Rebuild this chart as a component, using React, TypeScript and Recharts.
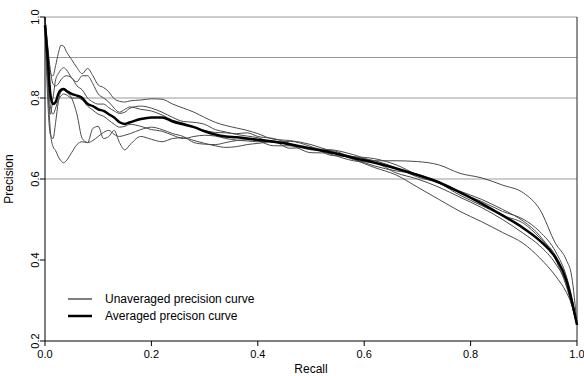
import React from 'react';
import { LineChart, Line, XAxis, YAxis, ReferenceLine, Legend } from 'recharts';

const recall = [0, 0.005, 0.01, 0.015, 0.02, 0.025, 0.03, 0.035, 0.04,
  0.05, 0.06, 0.07, 0.08, 0.09, 0.1, 0.11, 0.12, 0.13, 0.14, 0.15, 0.16,
  0.18, 0.2, 0.22, 0.24, 0.26, 0.28, 0.3, 0.32, 0.34, 0.36, 0.38, 0.4,
  0.43, 0.46, 0.5, 0.54, 0.58, 0.62, 0.66, 0.7, 0.74, 0.78, 0.82, 0.86, 0.9,
  0.93, 0.96, 0.98, 0.99, 1.0];

const curve1 = [1.0, 0.92, 0.86, 0.855, 0.88, 0.91, 0.93, 0.928, 0.915,
  0.895, 0.875, 0.86, 0.873, 0.855, 0.832, 0.826, 0.815, 0.798, 0.792, 0.79, 0.793,
  0.795, 0.798, 0.797, 0.785, 0.775, 0.765, 0.752, 0.74, 0.732, 0.726, 0.72, 0.712,
  0.698, 0.695, 0.685, 0.668, 0.655, 0.645, 0.628, 0.605, 0.59, 0.56, 0.535, 0.51, 0.49,
  0.455, 0.41, 0.35, 0.3, 0.24];

const curve2 = [1.0, 0.85, 0.76, 0.8, 0.845, 0.86, 0.87, 0.875, 0.87,
  0.85, 0.84, 0.855, 0.855, 0.835, 0.81, 0.8, 0.79, 0.775, 0.765, 0.772, 0.778,
  0.772, 0.768, 0.758, 0.745, 0.738, 0.728, 0.72, 0.715, 0.714, 0.712, 0.714, 0.705,
  0.7, 0.688, 0.672, 0.67, 0.65, 0.632, 0.62, 0.612, 0.59, 0.565, 0.545, 0.52, 0.5,
  0.47, 0.42, 0.36, 0.31, 0.24];

const curve3 = [1.0, 0.8, 0.71, 0.7, 0.74, 0.79, 0.815, 0.82, 0.815,
  0.8, 0.76, 0.7, 0.69, 0.725, 0.73, 0.7, 0.705, 0.72, 0.69, 0.672, 0.685,
  0.705, 0.698, 0.692, 0.7, 0.702, 0.695, 0.688, 0.682, 0.678, 0.68, 0.685, 0.688,
  0.692, 0.676, 0.678, 0.66, 0.645, 0.64, 0.615, 0.6, 0.58, 0.555, 0.53, 0.5, 0.465,
  0.435, 0.39, 0.34, 0.29, 0.24];

const curve4 = [1.0, 0.84, 0.72, 0.68, 0.67, 0.655, 0.645, 0.64, 0.645,
  0.665, 0.685, 0.692, 0.69, 0.695, 0.705, 0.715, 0.72, 0.71, 0.705, 0.708, 0.712,
  0.722, 0.728, 0.722, 0.712, 0.705, 0.69, 0.686, 0.685, 0.69, 0.695, 0.697, 0.694,
  0.682, 0.682, 0.665, 0.664, 0.648, 0.628, 0.61, 0.58, 0.55, 0.52, 0.495, 0.468, 0.44,
  0.405, 0.36, 0.32, 0.29, 0.24];

const curve5 = [1.0, 0.93, 0.87, 0.835, 0.83, 0.835, 0.845, 0.852, 0.855,
  0.85, 0.83, 0.82, 0.8, 0.79, 0.785, 0.785, 0.776, 0.768, 0.762, 0.765, 0.775,
  0.78, 0.775, 0.765, 0.752, 0.742, 0.74, 0.735, 0.722, 0.716, 0.71, 0.706, 0.702,
  0.69, 0.693, 0.68, 0.658, 0.655, 0.65, 0.635, 0.61, 0.592, 0.57, 0.55, 0.525, 0.495,
  0.46, 0.4, 0.335, 0.29, 0.24];

const curve6 = [1.0, 0.88, 0.78, 0.76, 0.775, 0.795, 0.805, 0.81, 0.808,
  0.8, 0.8, 0.795, 0.78, 0.77, 0.76, 0.755, 0.745, 0.735, 0.728, 0.73, 0.735,
  0.73, 0.722, 0.718, 0.708, 0.7, 0.705, 0.708, 0.706, 0.7, 0.696, 0.694, 0.692,
  0.694, 0.684, 0.675, 0.672, 0.66, 0.645, 0.645, 0.643, 0.635, 0.614, 0.603, 0.585, 0.565,
  0.525, 0.44, 0.4, 0.36, 0.24];

const averaged = [0.98, 0.9, 0.81, 0.785, 0.79, 0.81, 0.82, 0.822, 0.818,
  0.81, 0.806, 0.8, 0.785, 0.78, 0.772, 0.768, 0.76, 0.752, 0.74, 0.736, 0.74,
  0.748, 0.752, 0.752, 0.742, 0.735, 0.728, 0.718, 0.71, 0.705, 0.703, 0.7, 0.697,
  0.692, 0.686, 0.675, 0.665, 0.652, 0.64, 0.626, 0.61, 0.592, 0.567, 0.54, 0.51, 0.478,
  0.448, 0.405, 0.35, 0.3, 0.24];

const xTicks = [0, 0.2, 0.4, 0.6, 0.8, 1.0];
const yTicks = [0.2, 0.4, 0.6, 0.8, 1.0];
const gridValues = [0.6, 0.8, 0.9, 1.0];
const legendLabels = ['Unaveraged precision curve', 'Averaged precison curve'];
const xTitle = 'Recall';
const yTitle = 'Precision';

const thinCurves = [curve1, curve2, curve3, curve4, curve5, curve6];

const data = recall.map((r, i) => {
  const row: Record<string, number> = { recall: r, avg: averaged[i] };
  thinCurves.forEach((c, k) => { row['c' + (k + 1)] = c[i]; });
  return row;
});

const FONT = '"Liberation Sans", Arial, Helvetica, sans-serif';
const THIN = '#4a4a4a';

const YTick = (props: any) => {
  const { x, y, payload } = props;
  return (
    <text x={x} y={y} transform={`rotate(-90, ${x}, ${y})`} textAnchor="middle"
      dominantBaseline="central" fontSize={11} fontFamily={FONT} fill="#000">
      {Number(payload.value).toFixed(1)}
    </text>
  );
};

const renderLegend = () => (
  <svg width={240} height={40} style={{ display: 'block' }}>
    {legendLabels.map((label, i) => {
      const y = 11 + i * 17;
      return (
        <g key={label}>
          <line x1={8} x2={32} y1={y} y2={y} stroke="#000" strokeWidth={i === 0 ? 1 : 2.5} />
          <text x={45} y={y} dominantBaseline="central" fontSize={12} fontFamily={FONT} fill="#000">{label}</text>
        </g>
      );
    })}
  </svg>
);

export default function App() {
  return (
    <div style={{ position: 'absolute', left: 0, top: 0, background: '#fff' }}>
      <LineChart width={584} height={376} data={data}
        margin={{ top: 17, right: 7, bottom: 0, left: 0 }}>
        <XAxis dataKey="recall" type="number" domain={[0, 1]} ticks={xTicks}
          tickFormatter={(v: number) => v.toFixed(1)} height={35}
          tickSize={5} tickMargin={4}
          axisLine={{ stroke: '#000' }} tickLine={{ stroke: '#000' }}
          tick={{ fontSize: 11, fill: '#000', fontFamily: FONT }}
          label={{ value: xTitle, position: 'insideBottom', offset: 3, style: { fontSize: 12, fill: '#000', fontFamily: FONT } }} />
        <YAxis type="number" domain={[0.2, 1.0]} ticks={yTicks} width={45}
          allowDataOverflow tickSize={5} tickMargin={5}
          axisLine={{ stroke: '#000' }} tickLine={{ stroke: '#000' }}
          tick={<YTick />}
          label={{ value: yTitle, angle: -90, position: 'insideLeft', offset: 9, style: { fontSize: 12, fill: '#000', fontFamily: FONT, textAnchor: 'middle' } }} />
        {gridValues.map((v) => (
          <ReferenceLine key={v} y={v} stroke="#9a9a9a" strokeWidth={1} ifOverflow="extendDomain" />
        ))}
        <ReferenceLine x={1} stroke="#222" strokeWidth={1} />
        {thinCurves.map((_, k) => (
          <Line key={k} type="monotone" dataKey={'c' + (k + 1)} stroke={THIN} strokeWidth={1}
            dot={false} activeDot={false} isAnimationActive={false} />
        ))}
        <Line type="monotone" dataKey="avg" stroke="#000" strokeWidth={2.5}
          dot={false} activeDot={false} isAnimationActive={false} />
        <Legend layout="vertical" align="center" verticalAlign="middle"
          content={renderLegend}
          wrapperStyle={{ left: 60, top: 288, width: 240, height: 40 }} />
      </LineChart>
    </div>
  );
}
